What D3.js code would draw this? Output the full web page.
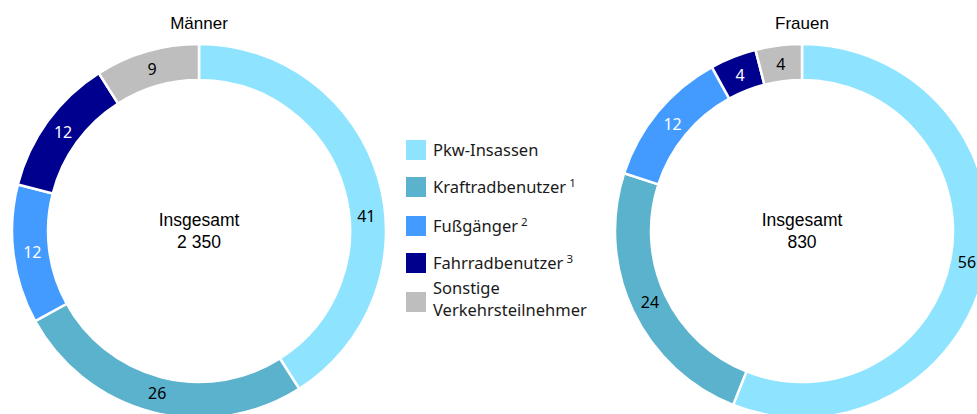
<!DOCTYPE html>
<html><head><meta charset="utf-8">
<script src="https://cdn.jsdelivr.net/npm/d3@7"></script>
<style>body{margin:0;background:#fff}svg{display:block}</style>
</head><body><svg id="c" width="977" height="414"></svg>
<script>
const categories = ["Pkw-Insassen","Kraftradbenutzer","Fußgänger","Fahrradbenutzer","Sonstige Verkehrsteilnehmer"];
const footnotes = ["", "1", "2", "3", ""];
const colors = ["#8ee4ff","#5ab2cc","#439bff","#00008f","#bebebe"];
const labelColors = ["#000","#000","#fff","#fff","#000"];
const maennerValues = [41,26,12,12,9];
const frauenValues = [56,24,12,4,4];
const chartTitles = ["Männer","Frauen"];
const totals = ["2 350","830"];

const svg = d3.select("#c");
const rOuter = 187, rInner = 151;
const pie = d3.pie().sort(null).value(d=>d);
const arc = d3.arc().innerRadius(rInner).outerRadius(rOuter);
const labelArc = d3.arc().innerRadius(rInner-1).outerRadius(rOuter-1);

function donut(values, cx, cy, title, total, labelAngleOverride){
  const g = svg.append("g").attr("transform",`translate(${cx},${cy})`);
  const arcs = pie(values);
  g.selectAll("path").data(arcs).join("path")
    .attr("d",arc).attr("fill",(d,i)=>colors[i])
    .attr("stroke","#fff").attr("stroke-width",2.5);
  g.selectAll("text.lab").data(arcs).join("text").attr("class","lab")
    .attr("transform",(d,i)=>{
      let c = labelArc.centroid(d);
      if(labelAngleOverride && labelAngleOverride[i]!=null){
        const a = labelAngleOverride[i], r=(rInner+rOuter)/2-1;
        c=[Math.sin(a)*r,-Math.cos(a)*r];
      }
      return `translate(${c[0]},${c[1]})`;})
    .attr("text-anchor","middle").attr("dy","0.36em")
    .attr("font-family","'Noto Sans', sans-serif").attr("font-size",16)
    .attr("fill",(d,i)=>labelColors[i]).text(d=>d.data);
  svg.append("text").attr("x",cx).attr("y",29).attr("text-anchor","middle")
    .attr("font-family","'Liberation Sans', Arial, sans-serif").attr("font-size",17)
    .attr("fill","#000").text(title);
  const ct = g.append("text").attr("text-anchor","middle")
    .attr("font-family","'Liberation Sans', Arial, sans-serif").attr("font-size",17.5).attr("fill","#000");
  ct.append("tspan").attr("x",0).attr("y",-5).text("Insgesamt");
  ct.append("tspan").attr("x",0).attr("y",17).text(total);
}

donut(maennerValues,199,231,chartTitles[0],totals[0],[84.9*Math.PI/180]);
donut(frauenValues,802,231,chartTitles[1],totals[1],null);

// legend
const lg = svg.append("g").attr("transform","translate(406,140)");
const rowY = [0,37,76,113,152];
categories.forEach((c,i)=>{
  lg.append("rect").attr("x",0).attr("y",rowY[i]).attr("width",20).attr("height",20).attr("fill",colors[i]);
  if(i===4){
    const parts = c.split(" ");
    [parts[0],parts[1]].forEach((p,k)=>{
      lg.append("text").attr("x",27).attr("y",rowY[i]+1.5+k*22.5)
        .attr("font-family","'Noto Sans', sans-serif").attr("font-size",16.5).attr("fill","#1a1a1a").text(p);
    });
  } else {
    const t = lg.append("text").attr("x",27).attr("y",rowY[i]+16)
      .attr("font-family","'Noto Sans', sans-serif").attr("font-size",16.5).attr("fill","#1a1a1a");
    t.append("tspan").text(c);
    if(footnotes[i]){
      t.append("tspan").attr("dx",3).attr("dy",-6).attr("font-size",11.5).text(footnotes[i]);
    }
  }
});
</script></body></html>
